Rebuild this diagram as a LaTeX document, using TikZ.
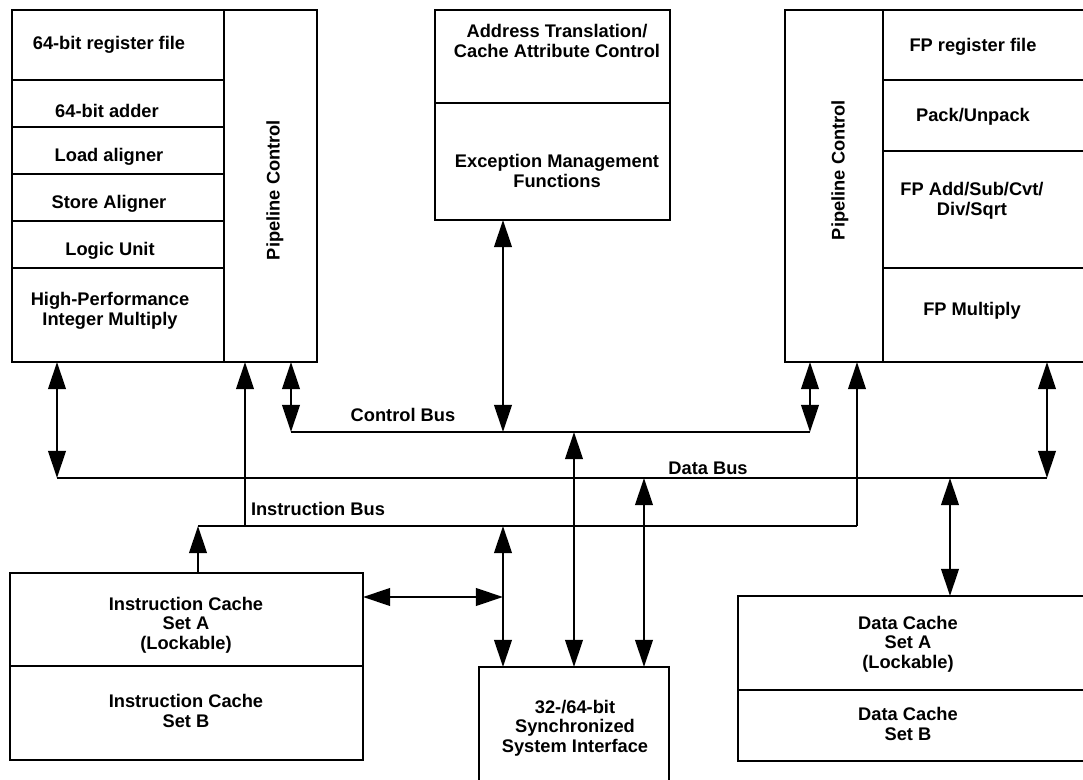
\documentclass[tikz,border=0pt]{standalone}
\usepackage{fontspec}
\setmainfont{Liberation Sans}
\usetikzlibrary{arrows.meta}
\tikzset{
  cellbox/.style={draw, line width=1.4pt, inner sep=0pt, outer sep=0pt},
  txt/.style={font=\fontsize{10.4}{11.1}\selectfont\bfseries, align=center, inner sep=0pt},
  wire/.style={line width=1.4pt},
  tip/.tip={Triangle[length=15.5pt,width=10pt]},
  dbl/.style={wire, tip-tip},
  sgl/.style={wire, -tip},
}
\newcommand{\mycell}[5]{\node[cellbox, anchor=north west, minimum width={(#4-#2)*0.02cm}, minimum height={(#5-#3)*0.02cm}] (#1) at (#2,#3) {};}
\begin{document}
\begin{tikzpicture}[x=0.02cm,y=-0.02cm]
\useasboundingbox (0,0) rectangle (1083,780);
% left integer block
\mycell{lreg}{12}{10}{224}{80}
\mycell{ladd}{12}{80}{224}{127}
\mycell{lload}{12}{127}{224}{174}
\mycell{lstore}{12}{174}{224}{221}
\mycell{llogic}{12}{221}{224}{268}
\mycell{lmul}{12}{268}{224}{362}
\mycell{lpc}{224}{10}{317}{362}
% middle block
\mycell{atc}{435}{10}{670}{103}
\mycell{exc}{435}{103}{670}{220}
% right FP block
\mycell{rpc}{785}{10}{883}{362}
\mycell{rreg}{883}{10}{1095}{80}
\mycell{rpack}{883}{80}{1095}{151}
\mycell{radd}{883}{151}{1095}{268}
\mycell{rmul}{883}{268}{1095}{362}
% bottom blocks
\mycell{icA}{10}{573}{363}{666}
\mycell{icB}{10}{666}{363}{760}
\mycell{si}{479}{667}{669}{800}
\mycell{dcA}{738}{596}{1095}{690}
\mycell{dcB}{738}{690}{1095}{761}
% texts
\node[txt] (tlreg) at (109,45) {64-bit register file};
\node[txt] (tladd) at (107,111) {64-bit adder};
\node[txt] (tlload) at (109,157) {Load aligner};
\node[txt] (tlstore) at (109,204) {Store Aligner};
\node[txt] (tllogic) at (110,251) {Logic Unit};
\node[txt] (tlmul) at (110,311) {High-Performance\\Integer Multiply};
\node[txt, rotate=90] (tlpc) at (275,190) {Pipeline Control};
\node[txt] (tatc) at (557,41) {Address Translation/\\Cache Attribute Control};
\node[txt] (texc) at (557,171) {Exception Management\\Functions};
\node[txt, rotate=90] (trpc) at (840,170) {Pipeline Control};
\node[txt] (trreg) at (973,47) {FP register file};
\node[txt] (trpack) at (973,117) {Pack/Unpack};
\node[txt] (tradd) at (972,201) {FP Add/Sub/Cvt/\\Div/Sqrt};
\node[txt] (trmul) at (972,311) {FP Multiply};
\node[txt] (ticA) at (186,625) {Instruction Cache\\Set A\\(Lockable)};
\node[txt] (ticB) at (186,711) {Instruction Cache\\Set B};
\node[txt] (tdcA) at (908,644) {Data Cache\\Set A\\(Lockable)};
\node[txt] (tdcB) at (908,724) {Data Cache\\Set B};
\node[txt] (tsi) at (575,728) {32-/64-bit\\Synchronized\\System Interface};
% bus labels
\node[txt] (lblcb) at (403,415) {Control Bus};
\node[txt] (lbldb) at (708,468) {Data Bus};
\node[txt] (lblib) at (318,509) {Instruction Bus};
% bus coordinates
\coordinate (cbL) at (291,432);
\coordinate (cbR) at (810,432);
\coordinate (dbL) at (57,478);
\coordinate (dbR) at (1047,478);
\coordinate (ibL) at (198,526);
\coordinate (ibR) at (857,526);
\coordinate (ib245) at (245,526);
\coordinate (cb503) at (503,432);
\coordinate (cb574) at (574,432);
\coordinate (db644) at (644,478);
\coordinate (db950) at (950,478);
\coordinate (ib503) at (503,526);
\coordinate (h503) at (503,597);
% buses
\draw[wire] (cbL) -- (cbR);
\draw[wire] (dbL) -- (dbR);
\draw[wire] (ibL) -- (ibR);
% connectors
\draw[dbl] (lmul.south -| dbL) -- (dbL);
\draw[sgl] (ib245) -- (lpc.south -| ib245);
\draw[dbl] (lpc.south -| cbL) -- (cbL);
\draw[dbl] (exc.south -| cb503) -- (cb503);
\draw[dbl] (cb574) -- (si.north -| cb574);
\draw[dbl] (db644) -- (si.north -| db644);
\draw[dbl] (ib503) -- (si.north -| ib503);
\draw[dbl] (icA.east |- h503) -- (h503);
\draw[sgl] (icA.north -| ibL) -- (ibL);
\draw[dbl] (rpc.south -| cbR) -- (cbR);
\draw[sgl] (ibR) -- (rpc.south -| ibR);
\draw[dbl] (rmul.south -| dbR) -- (dbR);
\draw[dbl] (db950) -- (dcA.north -| db950);
\end{tikzpicture}
\end{document}
